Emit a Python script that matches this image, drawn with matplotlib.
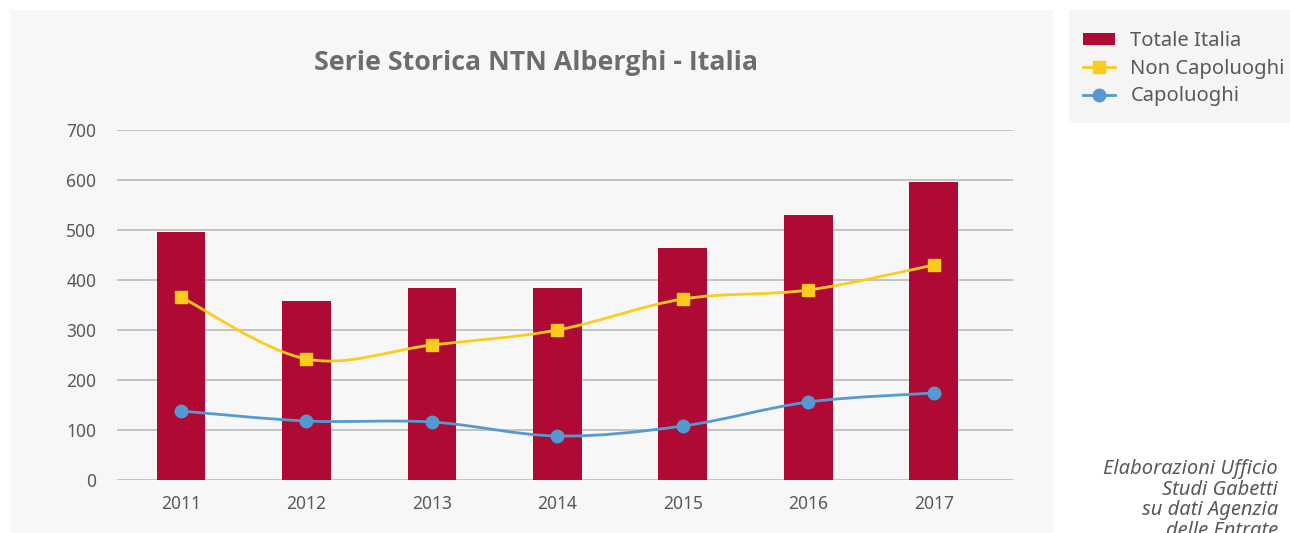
import numpy as np
import matplotlib
matplotlib.use('Agg')
import matplotlib.pyplot as plt
from matplotlib.path import Path
from matplotlib.patches import PathPatch, Rectangle
from matplotlib.lines import Line2D

years = ['2011', '2012', '2013', '2014', '2015', '2016', '2017']
totale = [496, 358, 384, 384, 464, 530, 596]
non_capoluoghi = [366, 242, 270, 300, 362, 380, 430]
capoluoghi = [138, 118, 116, 88, 108, 156, 174]

c_bar = '#AE0A33'
c_yel = '#FCCB1B'
c_blu = '#5599D2'
c_txt = '#595959'

W, H = 1290, 533
fig = plt.figure(figsize=(W / 100, H / 100), dpi=100)
fig.patch.set_facecolor('white')

# grey panels behind chart and legend
fig.patches.append(Rectangle((10 / W, 0), 1043 / W, 1 - 10 / H, transform=fig.transFigure,
                             facecolor='#f7f7f7', edgecolor='none', zorder=-10))
fig.patches.append(Rectangle((1069 / W, 1 - 123 / H), 221 / W, 113 / H, transform=fig.transFigure,
                             facecolor='#f5f5f5', edgecolor='none', zorder=-10))

ax = fig.add_axes([117 / W, 1 - 480 / H, 896 / W, 350 / H])
ax.set_facecolor('none')


def smooth(ax, ys, color):
    # excel-like smoothed line through the points (catmull-rom bezier)
    x = np.arange(len(ys), dtype=float)
    y = np.asarray(ys, dtype=float)
    verts = [(x[0], y[0])]
    codes = [Path.MOVETO]
    n = len(x)
    for i in range(n - 1):
        i0 = max(i - 1, 0)
        i3 = min(i + 2, n - 1)
        c1 = (x[i] + (x[i + 1] - x[i0]) / 6, y[i] + (y[i + 1] - y[i0]) / 6)
        c2 = (x[i + 1] - (x[i3] - x[i]) / 6, y[i + 1] - (y[i3] - y[i]) / 6)
        verts += [c1, c2, (x[i + 1], y[i + 1])]
        codes += [Path.CURVE4] * 3
    ax.add_patch(PathPatch(Path(verts, codes), facecolor='none', edgecolor=color, lw=2.0, zorder=3))


xs = np.arange(len(years))
ax.bar(xs, totale, width=0.39, color=c_bar, zorder=2)
smooth(ax, non_capoluoghi, c_yel)
smooth(ax, capoluoghi, c_blu)
ax.plot(xs, non_capoluoghi, 's', color=c_yel, ms=8, zorder=4)
ax.plot(xs, capoluoghi, 'o', color=c_blu, ms=9, zorder=4)

ax.set_xlim(-0.51, 6.63)
ax.set_ylim(0, 700)
ax.set_yticks(range(0, 701, 100))
ax.set_xticks(xs)
ax.set_xticklabels(years)
ax.grid(axis='y', color='#bfbfbf', lw=1.3, zorder=1)
for s in ax.spines.values():
    s.set_visible(False)
ax.tick_params(length=0, labelsize=12.5, labelcolor=c_txt)
ax.tick_params(axis='y', pad=15)
ax.tick_params(axis='x', pad=11)
for lab in ax.get_xticklabels() + ax.get_yticklabels():
    lab.set_fontfamily('Noto Sans')

fig.text(536 / W, 1 - 63 / H, 'Serie Storica NTN Alberghi - Italia', ha='center', va='center',
         fontsize=19.3, fontweight='bold', color='#6d6d6d', family='Open Sans')

handles = [Rectangle((0, 0), 1, 1, facecolor=c_bar),
           Line2D([], [], color=c_yel, lw=2.0, marker='s', ms=8),
           Line2D([], [], color=c_blu, lw=2.0, marker='o', ms=9)]
labels = ['Totale Italia', 'Non Capoluoghi', 'Capoluoghi']
leg = fig.legend(handles, labels, loc='upper left', bbox_to_anchor=(1083 / W, 1 - 31 / H),
                 frameon=False, prop={'family': 'Noto Sans', 'size': 14.5}, labelcolor=c_txt,
                 handlelength=1.6, handleheight=0.5, labelspacing=0.38, borderpad=0, borderaxespad=0,
                 handletextpad=0.75)

fig.text(1278 / W, 1 - 459 / H, 'Elaborazioni Ufficio\nStudi Gabetti\nsu dati Agenzia\ndelle Entrate',
         ha='right', va='top', fontsize=14.5, style='italic', color=c_txt, family='Noto Sans',
         linespacing=1.05)

fig.savefig('out.png', dpi=100)
